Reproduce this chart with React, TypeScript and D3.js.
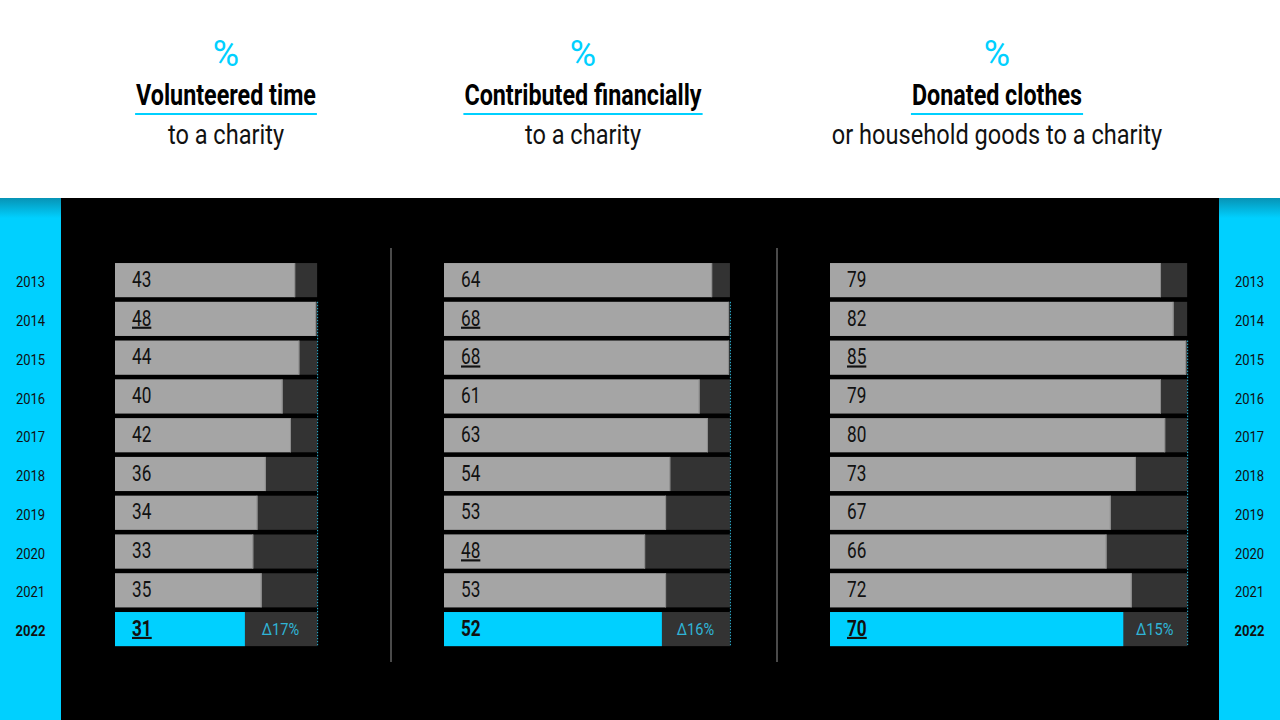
import * as d3 from "d3";
import React from "react";

const years = ["2013", "2014", "2015", "2016", "2017", "2018", "2019", "2020", "2021", "2022"];

const volunteered = [43, 48, 44, 40, 42, 36, 34, 33, 35, 31];
const financially = [64, 68, 68, 61, 63, 54, 53, 48, 53, 52];
const clothes = [79, 82, 85, 79, 80, 73, 67, 66, 72, 70];

const titles = ["Volunteered time", "Contributed financially", "Donated clothes"];
const subtitles = ["to a charity", "to a charity", "or household goods to a charity"];
const deltaLabels = ["Δ17%", "Δ16%", "Δ15%"];

// years whose value is underlined in each panel
const underlinedYears = [
  ["2014", "2022"],
  ["2014", "2015", "2020"],
  ["2015", "2022"],
];

const W = 1280;
const H = 720;
const cyan = "#00d0ff";
const gray = "#a5a5a5";
const darkGray = "#333333";
const font = "Roboto, 'DejaVu Sans', sans-serif";

const panelX = [115, 444, 830];
const headerX = [226, 583, 997];

// Roboto을 좁게 눌러서 condensed 글꼴처럼 보이게 함
const T = ({ x, y, sx = 0.82, children, ...rest }: any) => (
  <text
    transform={`translate(${x},${y}) scale(${sx},1)`}
    dominantBaseline="middle"
    {...rest}
  >
    {children}
  </text>
);

const HeaderTitle = ({ x, text }: { x: number; text: string }) => {
  const ref = React.useRef<SVGTextElement>(null);
  const sx = 0.79;
  const [w, setW] = React.useState(text.length * 12);
  React.useEffect(() => {
    if (ref.current) setW(ref.current.getComputedTextLength() * sx);
  }, [text]);
  return (
    <g>
      <text
        ref={ref}
        transform={`translate(${x},97) scale(${sx},1)`}
        textAnchor="middle"
        dominantBaseline="middle"
        fontSize={29.5}
        fontWeight={700}
        fill="#000"
      >
        {text}
      </text>
      <rect x={x - w / 2 - 1} y={113} width={w + 2} height={2} fill={cyan} />
    </g>
  );
};

const App = () => {
  const series = [volunteered, financially, clothes];

  // one scale for all panels, so bar lengths are comparable
  const x = d3.scaleLinear().domain([0, 100]).range([0, 419]);
  const y = d3
    .scaleBand()
    .domain(years)
    .range([258.4, 650.8])
    .padding(0.12);
  const bw = y.bandwidth();
  const last = years[years.length - 1];

  return (
    <svg
      width={W}
      height={H}
      style={{ position: "absolute", left: 0, top: 0, display: "block" }}
      fontFamily={font}
    >
      <defs>
        <linearGradient id="stripShade" x1="0" y1="0" x2="0" y2="1">
          <stop offset="0" stopColor="#0793b5" />
          <stop offset="1" stopColor={cyan} />
        </linearGradient>
      </defs>

      {/* 배경 */}
      <rect x={0} y={0} width={W} height={H} fill="#000" />
      <rect x={0} y={0} width={W} height={198} fill="#fff" />
      <rect x={0} y={198} width={61} height={H - 198} fill={cyan} />
      <rect x={1219} y={198} width={61} height={H - 198} fill={cyan} />
      <rect x={0} y={198} width={61} height={20} fill="url(#stripShade)" />
      <rect x={1219} y={198} width={61} height={20} fill="url(#stripShade)" />

      {/* 연도 라벨 */}
      {[30.5, 1249.5].map((cx) =>
        years.map((yr) => (
          <T
            key={cx + yr}
            x={cx}
            y={(y(yr) as number) + bw / 2 + 3}
            sx={0.84}
            textAnchor="middle"
            fontSize={15.5}
            fontWeight={yr === last ? 700 : 400}
            fill="#111"
          >
            {yr}
          </T>
        ))
      )}

      {/* 구분선 */}
      {[391, 777].map((sx) => (
        <line key={sx} x1={sx} x2={sx} y1={248} y2={662} stroke="#4a4a4a" strokeWidth={2} />
      ))}

      {series.map((values, p) => {
        const x0 = panelX[p];
        const maxV = d3.max(values) as number;
        const maxIdx = values.indexOf(maxV);
        const hx = headerX[p];
        return (
          <g key={p}>
            {/* 헤더 */}
            <T x={hx} y={56} sx={1} textAnchor="middle" fontSize={36} fontWeight={400} fill={cyan}>
              %
            </T>
            <HeaderTitle x={hx} text={titles[p]} />
            <T x={hx} y={137} sx={0.88} textAnchor="middle" fontSize={26.8} fill="#111">
              {subtitles[p]}
            </T>

            {values.map((v, i) => {
              const yr = years[i];
              const top = y(yr) as number;
              const isLast = yr === last;
              const under = underlinedYears[p].includes(yr);
              return (
                <g key={yr}>
                  <rect x={x0} y={top} width={x(maxV) + 1} height={bw} fill={darkGray} />
                  <rect x={x0} y={top} width={x(v)} height={bw} fill={isLast ? cyan : gray} />
                  {!isLast && (
                    <rect x={x0 + x(v) - 1} y={top} width={1} height={bw} fill="#8c8c8c" />
                  )}
                  <T
                    x={x0 + 17}
                    y={top + bw / 2 + 1}
                    sx={0.8}
                    fontSize={21.5}
                    fontWeight={isLast ? 700 : 400}
                    fill="#111"
                    textDecoration={under ? "underline" : undefined}
                  >
                    {v}
                  </T>
                  {isLast && (
                    <T
                      x={x0 + (x(v) + x(maxV)) / 2}
                      y={top + bw / 2 + 1}
                      sx={0.86}
                      textAnchor="middle"
                      fontSize={17}
                      fill="#2fb4d6"
                    >
                      {deltaLabels[p]}
                    </T>
                  )}
                </g>
              );
            })}

            {/* 최대값 기준선 */}
            <line
              x1={x0 + x(maxV) + 1.5}
              x2={x0 + x(maxV) + 1.5}
              y1={y(years[maxIdx]) as number}
              y2={(y(last) as number) + bw}
              stroke="#2fb4d6"
              strokeWidth={1}
              strokeDasharray="1.5 1.5"
            />
          </g>
        );
      })}
    </svg>
  );
};

export default App;
